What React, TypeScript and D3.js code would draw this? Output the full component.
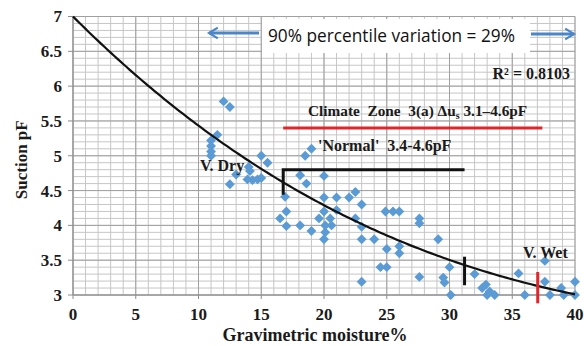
import React from "react";
import * as d3 from "d3";

// Data
const moisture = [
  12.0, 12.5, 11.5, 11.0, 11.0, 11.0, 11.0,
  12.5, 13.0, 14.0, 14.1, 13.9, 14.3, 14.7, 15.0, 15.0, 15.5,
  16.9, 16.5, 17.0, 17.0, 18.1, 18.6, 18.5, 19.0,
  20.0, 20.0, 21.0, 22.0, 22.5, 23.0,
  18.1, 19.0, 19.6, 20.0, 20.5, 20.6, 20.1, 20.1, 20.0, 21.0, 22.5, 23.0, 23.0, 24.0,
  24.9, 25.5, 26.0, 25.0, 26.0, 26.0, 24.5, 25.0, 23.0,
  27.6, 27.6, 29.1, 27.6, 29.5, 29.6, 30.0, 30.1,
  32.0, 32.6, 32.9, 33.2, 33.0, 33.6,
  35.5, 36.0, 37.6, 37.6, 38.0, 38.9, 39.1, 40.0, 40.0,
];
const suction = [
  5.78, 5.7, 5.3, 5.22, 5.14, 5.06, 5.0,
  4.59, 4.73, 4.84, 4.78, 4.66, 4.65, 4.66, 4.68, 5.0, 4.9,
  4.41, 4.1, 4.2, 3.99, 4.72, 4.6, 5.0, 5.1,
  4.71, 4.4, 4.4, 4.4, 4.48, 4.3,
  4.0, 3.92, 4.1, 4.2, 4.1, 4.0, 4.0, 3.9, 3.8, 4.22, 4.1, 3.98, 3.8, 3.8,
  4.2, 4.2, 4.2, 3.66, 3.7, 3.6, 3.4, 3.4, 3.19,
  4.1, 4.03, 3.8, 3.26, 3.25, 3.18, 3.4, 3.0,
  3.3, 3.1, 3.15, 3.05, 3.0, 3.0,
  3.31, 3.0, 3.49, 3.19, 3.0, 3.1, 3.0, 3.19, 3.0,
];
// trend line polynomial coefficients (a0 + a1 x + a2 x^2 + a3 x^3)
const trendCoeffs = [7, -0.1802, 0.002454, -0.00001107];
const xTicks = [0, 5, 10, 15, 20, 25, 30, 35, 40];
const yTicks = [3, 3.5, 4, 4.5, 5, 5.5, 6, 6.5, 7];
const yTickLabels = ["3", "3.5", "4", "4.5", "5", "5.5", "6", "6.5", "7"];

const W = 584, H = 346;
const serif = "'Liberation Serif', 'Times New Roman', serif";

export default function App() {
  const x = d3.scaleLinear().domain([0, 40]).range([73, 575]);
  const y = d3.scaleLinear().domain([3, 7]).range([295, 16.5]);

  const xMinor = d3.range(0, 41, 1);
  const yMinor = d3.range(30, 71, 1).map((v) => v / 10);

  const trend = (v: number) => trendCoeffs.reduce((s, c, i) => s + c * Math.pow(v, i), 0);
  const curveXs = d3.range(0, 40.01, 0.25);
  const line = d3.line<number>().x((d) => x(d)).y((d) => y(trend(d)));
  const pts = moisture.map((m, i) => [m, suction[i]]);
  const diamond = d3.symbol().type(d3.symbolDiamond2).size(62)();

  const blue = "#5b9bd5";
  const arrowBlue = "#4a86c8";
  const txt = "#1a1a1a";

  return (
    <svg width={W} height={H} style={{ position: "absolute", left: 0, top: 0, background: "#fff" }}>
      <defs>
        <marker id="ah" viewBox="0 0 10 10" refX="8" refY="5" markerWidth="4.5" markerHeight="4.5" orient="auto-start-reverse">
          <path d="M1.5,1 L8,5 L1.5,9" fill="none" stroke={arrowBlue} strokeWidth={1.6} strokeLinejoin="miter" />
        </marker>
      </defs>
      <rect x={0} y={0} width={W} height={H} fill="#fff" />
      {/* minor grid */}
      {xMinor.map((v) => (
        <line key={"xm" + v} x1={x(v)} x2={x(v)} y1={y(3)} y2={y(7)} stroke="#c6c6c6" strokeWidth={1} />
      ))}
      {yMinor.map((v) => (
        <line key={"ym" + v} x1={x(0)} x2={x(40)} y1={y(v)} y2={y(v)} stroke="#c6c6c6" strokeWidth={1} />
      ))}
      {/* major grid */}
      {xTicks.map((v) => (
        <line key={"xM" + v} x1={x(v)} x2={x(v)} y1={y(3)} y2={y(7)} stroke="#a0a0a0" strokeWidth={1} />
      ))}
      {yTicks.map((v) => (
        <line key={"yM" + v} x1={x(0)} x2={x(40)} y1={y(v)} y2={y(v)} stroke="#a0a0a0" strokeWidth={1} />
      ))}
      {/* axes */}
      <line x1={x(0)} x2={x(0)} y1={y(3)} y2={y(7)} stroke="#8c8c8c" strokeWidth={1} />
      <line x1={x(0)} x2={x(40)} y1={y(3)} y2={y(3)} stroke="#8c8c8c" strokeWidth={1} />
      {yTicks.map((v, i) => (
        <g key={"yt" + v}>
          <line x1={x(0) - 5} x2={x(0)} y1={y(v)} y2={y(v)} stroke="#8c8c8c" />
          <text x={x(0) - 11} y={y(v)} dy="0.35em" textAnchor="end" fontFamily={serif} fontWeight="bold" fontSize={17} fill={txt}>
            {yTickLabels[i]}
          </text>
        </g>
      ))}
      {xTicks.map((v) => (
        <g key={"xt" + v}>
          <line x1={x(v)} x2={x(v)} y1={y(3)} y2={y(3) + 4} stroke="#8c8c8c" />
          <text x={x(v)} y={y(3) + 25} textAnchor="middle" fontFamily={serif} fontWeight="bold" fontSize={17} fill={txt}>
            {v}
          </text>
        </g>
      ))}
      {/* axis titles */}
      <text x={315} y={341} textAnchor="middle" fontFamily={serif} fontWeight="bold" fontSize={18} fill={txt}>
        Gravimetric moisture%
      </text>
      <text transform={`translate(27,${(y(3) + y(7)) / 2 + 4}) rotate(-90)`} textAnchor="middle" fontFamily={serif} fontWeight="bold" fontSize={17} fill={txt}>
        Suction pF
      </text>

      {/* top box and arrows */}
      <rect x={262} y={19} width={268} height={34} fill="#fff" />
      <text x={391.5} y={42} textAnchor="middle" textLength={247} lengthAdjust="spacingAndGlyphs" fontFamily="'Open Sans', 'Noto Sans', sans-serif" fontWeight={500} fontSize={17.5} fill="#111">
        90% percentile variation = 29%
      </text>
      <line x1={259} x2={209} y1={33} y2={33} stroke={arrowBlue} strokeWidth={3} markerEnd="url(#ah)" />
      <line x1={531} x2={574} y1={34} y2={34} stroke={arrowBlue} strokeWidth={3} markerEnd="url(#ah)" />

      <text x={570} y={79} textAnchor="end" fontFamily={serif} fontWeight="bold" fontSize={16} fill={txt}>
        R² = 0.8103
      </text>
      <text x={308} y={116} fontFamily={serif} fontWeight="bold" fontSize={15.3} fill={txt} style={{ whiteSpace: "pre" }}>
        Climate  Zone  3(a) Δu<tspan fontSize={10} dy={3}>s</tspan><tspan dy={-3}> 3.1–4.6pF</tspan>
      </text>
      <line x1={x(16.75)} x2={x(37.4)} y1={y(5.4)} y2={y(5.4)} stroke="#e0262b" strokeWidth={3} />
      <text x={318} y={151} fontFamily={serif} fontWeight="bold" fontSize={16} fill={txt} style={{ whiteSpace: "pre" }}>
        'Normal'  3.4-4.6pF
      </text>

      {/* scatter */}
      {pts.map((p, i) => (
        <path key={"p" + i} d={diamond} transform={`translate(${x(p[0])},${y(p[1])})`} fill={blue} />
      ))}

      {/* trend */}
      <path d={line(curveXs) || ""} fill="none" stroke="#111" strokeWidth={2.2} />

      {/* bracket for normal range */}
      <path d={`M${x(16.75)},${y(4.44)} L${x(16.75)},${y(4.8)} L${x(31.2)},${y(4.8)}`} fill="none" stroke="#111" strokeWidth={3} />
      <line x1={x(31.2)} x2={x(31.2)} y1={y(3.55)} y2={y(3.14)} stroke="#111" strokeWidth={3} />
      <line x1={x(37.03)} x2={x(37.03)} y1={y(3.33)} y2={y(2.88)} stroke="#e0262b" strokeWidth={3} />

      <text x={200} y={171} fontFamily={serif} fontWeight="bold" fontSize={16} fill={txt}>
        V. Dry
      </text>
      <text x={523} y={258} fontFamily={serif} fontWeight="bold" fontSize={16} fill={txt}>
        V. Wet
      </text>
    </svg>
  );
}
